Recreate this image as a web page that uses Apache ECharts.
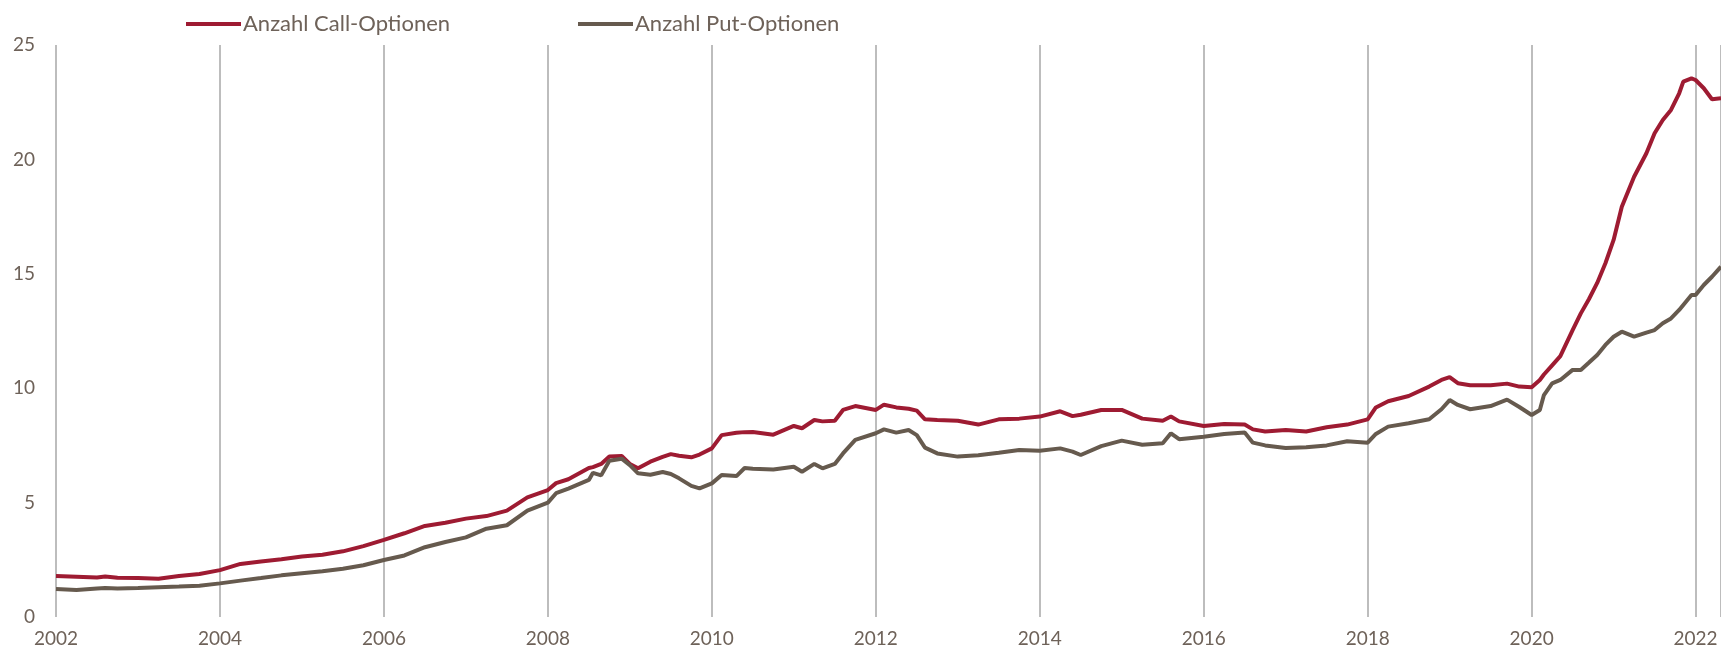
<!DOCTYPE html>
<html>
<head>
<meta charset="utf-8">
<script src="https://cdn.jsdelivr.net/npm/echarts/dist/echarts.min.js"></script>
<style>
    html, body {margin: 0; padding: 0; background: #fff;}
    #chart {width: 1721px; height: 653px;}
</style>
</head>
<body>
<div id="chart"></div>
<script>
// Stichtage (Dezimaljahre) und Werte
const dates = [
    2002.0, 2002.25, 2002.5, 2002.6, 2002.75, 2003.0, 2003.25, 2003.5, 2003.75,
    2004.0, 2004.25, 2004.5, 2004.75, 2005.0, 2005.25, 2005.5, 2005.75,
    2006.0, 2006.25, 2006.5, 2006.75, 2007.0, 2007.25, 2007.5, 2007.75,
    2008.0, 2008.1, 2008.25, 2008.5, 2008.55, 2008.65, 2008.75, 2008.9,
    2009.0, 2009.1, 2009.25, 2009.4, 2009.5, 2009.6, 2009.75, 2009.85,
    2010.0, 2010.12, 2010.3, 2010.4, 2010.5, 2010.75,
    2011.0, 2011.1, 2011.25, 2011.35, 2011.5, 2011.6, 2011.75,
    2012.0, 2012.1, 2012.25, 2012.4, 2012.5, 2012.6, 2012.75,
    2013.0, 2013.25, 2013.5, 2013.75,
    2014.0, 2014.25, 2014.4, 2014.5, 2014.75,
    2015.0, 2015.25, 2015.5, 2015.6, 2015.7,
    2016.0, 2016.25, 2016.5, 2016.6, 2016.75,
    2017.0, 2017.25, 2017.5, 2017.75,
    2018.0, 2018.1, 2018.25, 2018.5, 2018.75, 2018.9,
    2019.0, 2019.1, 2019.25, 2019.5, 2019.7, 2019.85,
    2020.0, 2020.1, 2020.15, 2020.25, 2020.35, 2020.5, 2020.6, 2020.7, 2020.8, 2020.9,
    2021.0, 2021.1, 2021.25, 2021.4, 2021.5, 2021.6, 2021.7, 2021.8, 2021.85, 2021.95,
    2022.0, 2022.1, 2022.2, 2022.31
]
const callValues = [
    1.79, 1.76, 1.73, 1.77, 1.72, 1.70, 1.67, 1.79, 1.88,
    2.05, 2.32, 2.43, 2.52, 2.64, 2.72, 2.87, 3.10,
    3.37, 3.66, 3.98, 4.12, 4.30, 4.41, 4.65, 5.23,
    5.55, 5.85, 6.02, 6.51, 6.55, 6.69, 7.01, 7.04,
    6.69, 6.50, 6.79, 7.00, 7.12, 7.05, 6.98, 7.10,
    7.37, 7.95, 8.05, 8.08, 8.09, 7.97,
    8.35, 8.25, 8.61, 8.55, 8.58, 9.05, 9.22,
    9.05, 9.28, 9.16, 9.10, 9.02, 8.64, 8.61,
    8.58, 8.41, 8.64, 8.67,
    8.76, 8.99, 8.78, 8.84, 9.05,
    9.05, 8.67, 8.58, 8.76, 8.55,
    8.35, 8.44, 8.41, 8.20, 8.11,
    8.17, 8.11, 8.29, 8.41,
    8.64, 9.16, 9.43, 9.66, 10.07, 10.36,
    10.48, 10.22, 10.13, 10.13, 10.20, 10.07,
    10.04, 10.36, 10.60, 11.00, 11.40, 12.54, 13.27, 13.90, 14.60, 15.46,
    16.48, 17.93, 19.24, 20.27, 21.14, 21.72, 22.16, 22.89, 23.40, 23.54,
    23.47, 23.11, 22.63, 22.67
]
const putValues = [
    1.22, 1.18, 1.25, 1.27, 1.25, 1.27, 1.30, 1.33, 1.37,
    1.47, 1.59, 1.70, 1.82, 1.91, 2.00, 2.11, 2.26,
    2.49, 2.69, 3.05, 3.28, 3.48, 3.86, 4.01, 4.65,
    5.00, 5.41, 5.61, 5.99, 6.30, 6.19, 6.83, 6.92,
    6.64, 6.28, 6.22, 6.34, 6.25, 6.06, 5.73, 5.62,
    5.84, 6.21, 6.16, 6.51, 6.48, 6.45,
    6.57, 6.35, 6.69, 6.50, 6.69, 7.15, 7.74,
    8.03, 8.20, 8.06, 8.17, 7.95, 7.40, 7.15,
    7.01, 7.07, 7.18, 7.30,
    7.27, 7.37, 7.23, 7.08, 7.47,
    7.71, 7.53, 7.59, 8.03, 7.77,
    7.88, 8.00, 8.06, 7.62, 7.50,
    7.39, 7.42, 7.50, 7.68,
    7.62, 8.00, 8.32, 8.47, 8.64, 9.08,
    9.48, 9.27, 9.08, 9.22, 9.50, 9.18,
    8.83, 9.05, 9.70, 10.21, 10.36, 10.80, 10.80, 11.12, 11.45, 11.89,
    12.25, 12.47, 12.25, 12.43, 12.54, 12.84, 13.05, 13.42, 13.64, 14.07,
    14.07, 14.51, 14.87, 15.31
]
const seriesNames = ['Anzahl Call-Optionen', 'Anzahl Put-Optionen']
const yTicks = [0, 5, 10, 15, 20, 25]

const textColor = '#6e6259'
const fontFam = 'Lato, "Noto Sans", sans-serif'

let chart = echarts.init(document.getElementById('chart'))

function pairs(vals) {
    return dates.map((d, i) => [d, vals[i]])
}

// eine Legende pro Serie, damit die Positionen wie im Original sitzen
function legendAt(name, left) {
    return {
        data: [name],
        left: left,
        top: 8,
        icon: 'rect',
        itemWidth: 55,
        itemHeight: 4,
        itemGap: 0,
        textStyle: {color: textColor, fontSize: 22, fontFamily: fontFam, padding: [0, 0, 0, -3]}
    }
}

const option = {
    animation: false,
    backgroundColor: '#fff',
    legend: [
        legendAt(seriesNames[0], 181),
        legendAt(seriesNames[1], 573)
    ],
    grid: {
        left: 56,
        right: 0,
        top: 45,
        bottom: 36
    },
    xAxis: {
        type: 'value',
        min: 2002,
        max: 2022.31,
        interval: 2,
        axisLine: {show: false},
        axisTick: {show: false},
        axisLabel: {
            color: textColor,
            fontSize: 19,
            fontFamily: fontFam,
            margin: 12,
            showMaxLabel: false,
            formatter: v => (Number.isInteger(v) ? String(v) : '')
        },
        splitLine: {show: true, lineStyle: {color: '#bdbdbd', width: 2}}
    },
    yAxis: {
        type: 'value',
        min: yTicks[0],
        max: yTicks[yTicks.length - 1],
        interval: 5,
        axisLine: {show: false},
        axisTick: {show: false},
        splitLine: {show: false},
        axisLabel: {color: textColor, fontSize: 19, fontFamily: fontFam, margin: 21}
    },
    series: [
        {
            name: seriesNames[0],
            type: 'line',
            data: pairs(callValues),
            symbol: 'none',
            lineStyle: {color: '#9e1b32', width: 4},
            itemStyle: {color: '#9e1b32'}
        },
        {
            name: seriesNames[1],
            type: 'line',
            data: pairs(putValues),
            symbol: 'none',
            lineStyle: {color: '#665a4e', width: 4},
            itemStyle: {color: '#665a4e'}
        }
    ]
}
chart.setOption(option)
</script>
</body>
</html>
